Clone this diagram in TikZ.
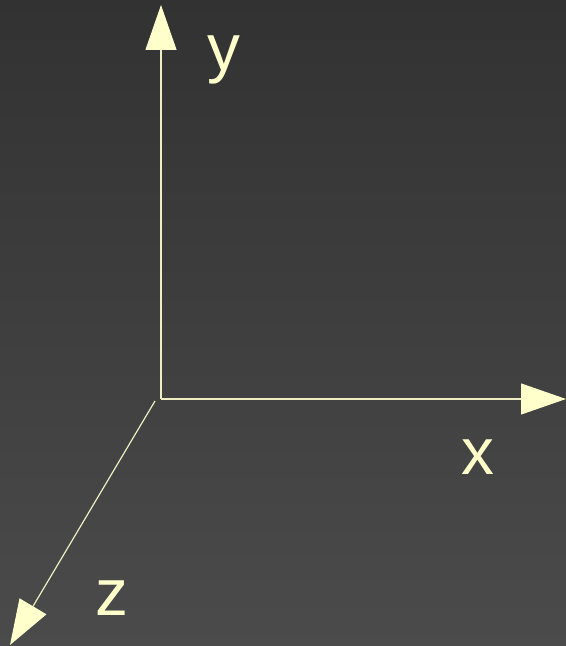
\documentclass[tikz,border=0pt]{standalone}
\usepackage{fontspec}
\setmainfont{Liberation Sans}
\usetikzlibrary{arrows.meta}
\definecolor{axiscol}{HTML}{FFFFCC}
\definecolor{linecol}{HTML}{EEEEC0}
\definecolor{bgtop}{HTML}{323232}
\definecolor{bgbot}{HTML}{4B4B4B}
\begin{document}
\begin{tikzpicture}[x=1bp,y=1bp,
  axis/.style={draw=linecol,line width=1.2bp,-{Triangle[length=45bp,width=31bp,color=axiscol,fill=axiscol]}},
  lbl/.style={text=axiscol,inner sep=0pt,anchor=base,font=\fontsize{66}{66}\selectfont}]
\shade[top color=bgtop,bottom color=bgbot] (0,0) rectangle (566,646);
\useasboundingbox (0,0) rectangle (566,646);
\coordinate (o) at (161,247);
\coordinate (zo) at (155,245);
\coordinate (ytip) at (161,641);
\coordinate (xtip) at (566,247);
\coordinate (ztip) at (10,1);
\draw[axis] (o) -- (ytip);
\draw[axis] (o) -- (xtip);
\draw[axis] (zo) -- (ztip);
\node[lbl] (ylab) at (224,575) {y};
\node[lbl] (xlab) at (478,171) {x};
\node[lbl] (zlab) at (112,30) {z};
\end{tikzpicture}
\end{document}
